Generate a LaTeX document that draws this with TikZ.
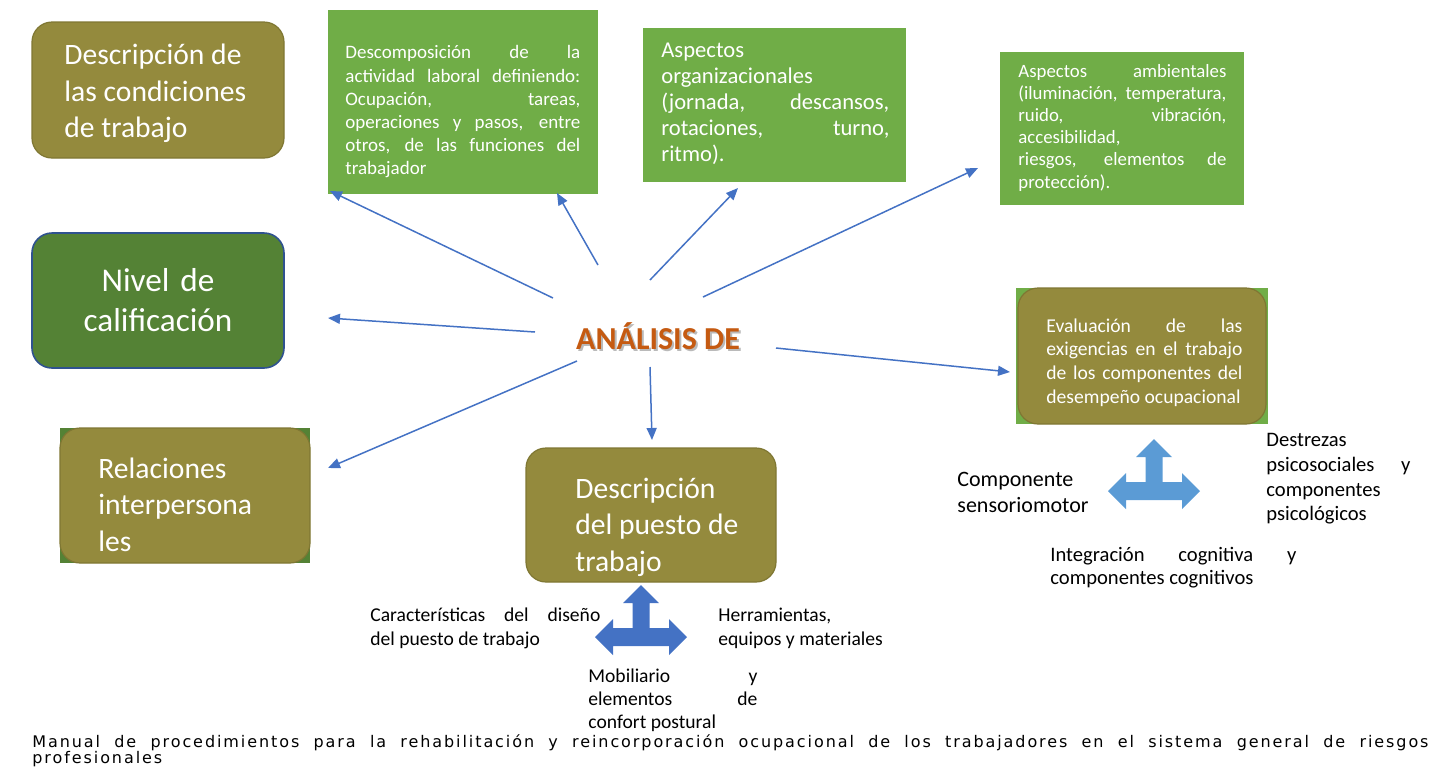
\documentclass[tikz,border=0pt]{standalone}
\usepackage{fontspec}
\setmainfont{Carlito}
\newfontfamily\capfont[LetterSpace=12]{DejaVu Sans}
\usetikzlibrary{arrows.meta}

\tolerance=10000
\hbadness=10000
\hyphenpenalty=10000

\definecolor{boxolive}{HTML}{948A3D}
\definecolor{olivedark}{HTML}{7F7733}
\definecolor{boxgreen}{HTML}{70AD47}
\definecolor{darkgreen}{HTML}{548235}
\definecolor{navyline}{HTML}{2F528F}
\definecolor{arrowblue}{HTML}{4472C4}
\definecolor{lightblue}{HTML}{5B9BD5}
\definecolor{hubtext}{HTML}{C55A11}

\tikzset{
	olivebox/.style={rounded corners=10pt, fill=boxolive, draw=olivedark, line width=0.6pt},
	greenbox/.style={fill=boxgreen, draw=boxgreen},
	darkbox/.style={rounded corners=10pt, fill=darkgreen, draw=navyline, line width=0.8pt},
	bigtxt/.style={text=white, inner sep=0pt, align=flush left, font=\fontsize{14.8}{18.2}\selectfont},
	boxtxt/.style={text=white, inner sep=0pt, align=justify},
	lbltxt/.style={text=black, inner sep=0pt, align=justify},
	link/.style={draw=arrowblue, line width=0.75pt, -{Triangle[length=6pt,width=5pt]}},
}

\newcommand{\triarrow}[3]{%
	\begin{scope}[shift={(#1,#2)}]
		\fill[#3] (0,-52) -- (18,-34) -- (8.5,-34) -- (8.5,-9) -- (28,-9) -- (28,-18)
			-- (46,0) -- (28,18) -- (28,9) -- (-28,9) -- (-28,18) -- (-46,0)
			-- (-28,-18) -- (-28,-9) -- (-8.5,-9) -- (-8.5,-34) -- (-18,-34) -- cycle;
	\end{scope}}

\begin{document}
\begin{tikzpicture}[x=0.5pt,y=-0.5pt]
	\useasboundingbox (0,0) rectangle (1432,768);

	% boxes
	\node[olivebox, minimum width=126pt, minimum height=68pt] (condic) at (158,90) {};
	\node[darkbox, minimum width=126pt, minimum height=67.5pt] (nivel) at (158,300.5) {};
	\node[fill=darkgreen, minimum width=125pt, minimum height=67.5pt] (relacbg) at (185,495.5) {};
	\node[olivebox, minimum width=125pt, minimum height=67.5pt] (relac) at (185,495.5) {};
	\node[olivebox, minimum width=125pt, minimum height=67pt] (puesto) at (651,515) {};
	\node[greenbox, minimum width=134.5pt, minimum height=91.5pt] (descomp) at (462.5,101.5) {};
	\node[greenbox, minimum width=131pt, minimum height=76.5pt] (organiz) at (774,104.5) {};
	\node[greenbox, minimum width=121.5pt, minimum height=76pt] (ambient) at (1121.5,128) {};
	\node[fill=boxgreen, minimum width=126pt, minimum height=68pt] (evaluabg) at (1142,356) {};
	\node[olivebox, minimum width=124pt, minimum height=68pt] (evalua) at (1142,356) {};

	% box texts
	\node[bigtxt, anchor=west, text width=94pt] (condictxt) at (64,93.5)
		{Descripción de\\las condiciones\\de trabajo};
	\node[bigtxt, align=center, text width=110pt, font=\fontsize{16.6}{20}\selectfont] (niveltxt) at (158,300)
		{Nivel de\\calificación};
	\node[bigtxt, anchor=west, text width=100pt] (relactxt) at (98,504.5)
		{Relaciones\\interpersona\\les};
	\node[bigtxt, anchor=west, text width=95pt] (puestotxt) at (575,527)
		{Descripción\\del puesto de\\trabajo};
	\node[boxtxt, anchor=west, text width=117.5pt, font=\fontsize{9.5}{11.6}\selectfont] (descomptxt) at (345,112)
		{Descomposición de la\linebreak actividad laboral definiendo:\linebreak Ocupación, tareas,\linebreak operaciones y pasos, entre\linebreak otros, de las funciones del\linebreak trabajador};
	\node[boxtxt, anchor=west, text width=114pt, font=\fontsize{11.3}{13}\selectfont] (organiztxt) at (661,103.5)
		{Aspectos\linebreak organizacionales\linebreak (jornada, descansos,\linebreak rotaciones, turno,\linebreak ritmo).};
	\node[boxtxt, anchor=west, text width=104pt, font=\fontsize{9.4}{11.1}\selectfont] (ambienttxt) at (1018,127.5)
		{Aspectos ambientales\linebreak (iluminación, temperatura,\linebreak ruido, vibración,\linebreak accesibilidad,\linebreak riesgos, elementos de\linebreak protección).};
	\node[boxtxt, anchor=west, text width=98pt, font=\fontsize{9.8}{11.8}\selectfont] (evaluatxt) at (1046,362.5)
		{Evaluación de las\linebreak exigencias en el trabajo\linebreak de los componentes del\linebreak desempeño ocupacional};

	% centre
	\node[text=black!45, opacity=0.6, font=\fontsize{16}{19}\selectfont\bfseries] (hubshadow) at (660,338) {ANÁLISIS DE};
	\node[text=hubtext, font=\fontsize{16}{19}\selectfont\bfseries] (hub) at (658,336) {ANÁLISIS DE};

	\coordinate (s1) at (553,298);
	\coordinate (e1) at (330,191);
	\coordinate (s2) at (598,265);
	\coordinate (e2) at (557,193);
	\coordinate (s3) at (650,280);
	\coordinate (e3) at (738,188);
	\coordinate (s4) at (703,297);
	\coordinate (e4) at (978,168);
	\coordinate (s5) at (535,332);
	\coordinate (e5) at (328,318);
	\coordinate (s6) at (577,361);
	\coordinate (e6) at (328,468);
	\coordinate (s7) at (650,367);
	\coordinate (e7) at (652,440);
	\coordinate (s8) at (776,348);
	\coordinate (e8) at (1010,372);

	\draw[link] (s1) -- (e1);
	\draw[link] (s2) -- (e2);
	\draw[link] (s3) -- (e3);
	\draw[link] (s4) -- (e4);
	\draw[link] (s5) -- (e5);
	\draw[link] (s6) -- (e6);
	\draw[link] (s7) -- (e7);
	\draw[link] (s8) -- (e8);

	% block arrows
	\triarrow{641}{637}{arrowblue}
	\triarrow{1154}{491}{lightblue}

	% labels
	\node[lbltxt, anchor=west, text width=115pt, font=\fontsize{9.8}{12}\selectfont] (caract) at (370,628)
		{Características del diseño\linebreak del puesto de trabajo};
	\node[lbltxt, anchor=west, text width=90pt, align=flush left, font=\fontsize{9.8}{12}\selectfont] (herram) at (718,628)
		{Herramientas,\\equipos y materiales};
	\node[lbltxt, anchor=west, text width=84.5pt, font=\fontsize{9.8}{11.6}\selectfont] (mobil) at (588,700)
		{Mobiliario y\linebreak elementos de\linebreak confort postural};
	\node[lbltxt, anchor=west, text width=70pt, align=flush left, font=\fontsize{11}{12.6}\selectfont] (compsens) at (957,492.5)
		{Componente\\sensoriomotor};
	\node[lbltxt, anchor=west, text width=72pt, font=\fontsize{10.3}{12.3}\selectfont] (destrez) at (1266,479)
		{Destrezas\linebreak psicosociales y\linebreak componentes\linebreak psicológicos};
	\node[lbltxt, anchor=west, text width=123pt, font=\fontsize{10.3}{11.6}\selectfont] (integr) at (1050,567.5)
		{Integración cognitiva y\linebreak componentes cognitivos};

	% source
	\node[lbltxt, anchor=west, text width=698pt, font=\capfont\fontsize{8}{8}\selectfont] (fuente) at (32,751)
		{Manual de procedimientos para la rehabilitación y reincorporación ocupacional de los trabajadores en el sistema general de riesgos\linebreak profesionales};
\end{tikzpicture}
\end{document}
